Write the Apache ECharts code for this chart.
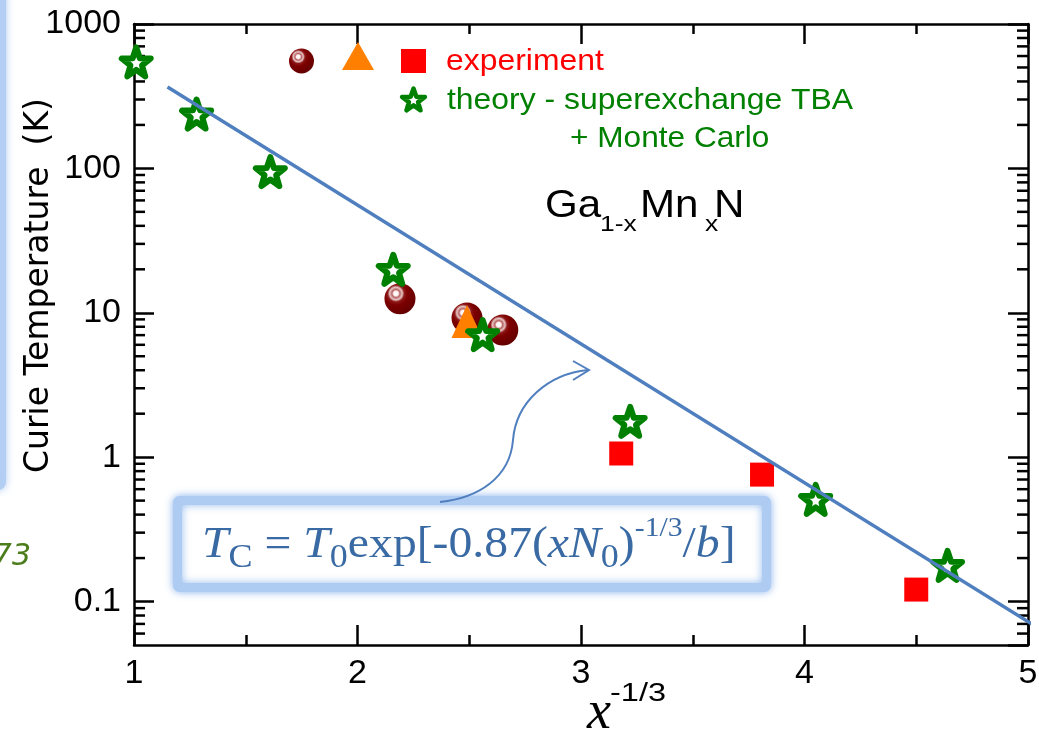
<!DOCTYPE html>
<html>
<head>
<meta charset="utf-8">
<script src="https://cdn.jsdelivr.net/npm/echarts@6/dist/echarts.min.js"></script>
<style>
  html, body { margin: 0; padding: 0; background: #ffffff; }
  #chart { width: 1039px; height: 735px; }
</style>
</head>
<body>
<div id="chart"></div>
<script>
// Curie temperature of Ga(1-x)Mn(x)N versus x^(-1/3)
const theoryX   = [1.01, 1.28, 1.61, 2.16, 2.56, 3.22, 4.05, 4.64];
const theoryT   = [546, 238, 95, 20, 7.05, 1.77, 0.51, 0.178];
const sphereX   = [2.19, 2.49, 2.65];
const sphereT   = [12.5, 9.2, 7.6];
const triangleX = [2.49];
const triangleT = [8.7];
const squareX   = [3.18, 3.81, 4.50];
const squareT   = [1.06, 0.757, 0.121];
const fitX      = [1.15, 5.05];
const fitT      = [366, 0.065];

const xTicks = [1, 2, 3, 4, 5];
const yTicks = [0.1, 1, 10, 100, 1000];
const yMin = 0.05, yMax = 1000;

// minor ticks 2..9 in every decade of the log axis
const yMinorTicks = [];
[0.01, 0.1, 1, 10, 100].forEach(d => {
  for (let m = 2; m <= 9; m++) {
    const v = +(m * d).toPrecision(2);
    if (v > yMin && v < yMax) yMinorTicks.push(v);
  }
});

const zip = (xs, ys) => xs.map((x, i) => [x, ys[i]]);

const BLUE = '#4f7fbe';
const GREEN = '#008000';
const STAR = 'path://M0,-10 L2.35,-3.24 L9.51,-3.09 L3.8,1.24 L5.88,8.09 L0,4 L-5.88,8.09 L-3.8,1.24 L-9.51,-3.09 L-2.35,-3.24 Z';

// five-pointed star outline as a point list (legend glyph)
function starPoints(cx, cy, R, r) {
  const pts = [];
  for (let k = 0; k < 10; k++) {
    const a = -Math.PI / 2 + k * Math.PI / 5;
    const rad = k % 2 === 0 ? R : r;
    pts.push([cx + rad * Math.cos(a), cy + rad * Math.sin(a)]);
  }
  return pts;
}

// glossy maroon ball
function sphereFill() {
  return {
    type: 'radial', x: 0.37, y: 0.33, r: 0.75,
    colorStops: [
      { offset: 0.00, color: '#ffffff' },
      { offset: 0.10, color: '#fff2f2' },
      { offset: 0.17, color: '#b86464' },
      { offset: 0.27, color: '#e6c4c4' },
      { offset: 0.36, color: '#8e1818' },
      { offset: 0.50, color: '#7c0000' },
      { offset: 1.00, color: '#600000' }
    ]
  };
}

const frameLine = { show: true, onZero: false, lineStyle: { color: '#000', width: 2.5 } };
const majorTick = { show: true, inside: true, length: 20, lineStyle: { color: '#000', width: 2.5 } };
const tickFont = { fontFamily: 'Liberation Sans', fontSize: 34, color: '#000' };

function decadeLabel(v) {
  const e = Math.log10(v);
  if (Math.abs(e - Math.round(e)) > 1e-6) return '';
  const t = yTicks.find(k => Math.abs(Math.log10(k) - e) < 1e-6);
  return t === undefined ? '' : String(t);
}

const chart = echarts.init(document.getElementById('chart'), null, { renderer: 'canvas' });

const sansText = (text, x, baseline, size, fill, sx) => ({
  type: 'text', x: x, y: baseline - 0.3465 * size, scaleX: sx || 1, silent: true, z: 20,
  style: { text: text, fontFamily: 'Liberation Sans', fontSize: size, fill: fill, align: 'left', verticalAlign: 'middle' }
});

const formulaColor = '#3a6aa4';
const serif = 'Liberation Serif';
const arrowStyle = { fill: 'none', stroke: BLUE, lineWidth: 2 };

chart.setOption({
  animation: false,
  backgroundColor: '#ffffff',
  grid: { left: 134, top: 24, right: 11, bottom: 90, containLabel: false, outerBoundsMode: 'none' },
  xAxis: [
    {
      type: 'value', min: xTicks[0], max: xTicks[xTicks.length - 1], interval: 1, position: 'bottom',
      axisLine: frameLine, axisTick: majorTick,
      minorTick: { show: true, splitNumber: 2, length: 10, lineStyle: { color: '#000', width: 2.5 } },
      splitLine: { show: false }, minorSplitLine: { show: false },
      axisLabel: Object.assign({ margin: 12 }, tickFont)
    },
    {
      type: 'value', min: xTicks[0], max: xTicks[xTicks.length - 1], interval: 1, position: 'top',
      axisLine: frameLine, axisTick: majorTick,
      minorTick: { show: true, splitNumber: 2, length: 10, lineStyle: { color: '#000', width: 2.5 } },
      splitLine: { show: false }, axisLabel: { show: false }
    }
  ],
  yAxis: [
    {
      type: 'log', logBase: 10, min: yMin, max: yMax, position: 'left',
      axisLine: frameLine, axisTick: majorTick, splitLine: { show: false },
      axisLabel: Object.assign({ margin: 13, showMinLabel: false, formatter: decadeLabel }, tickFont),
      name: 'Curie Temperature  (K)', nameLocation: 'middle', nameGap: 78, nameMoveOverlap: false,
      nameTextStyle: { fontFamily: 'DejaVu Sans', fontSize: 33, color: '#000', padding: [0, 0, 0, 98] }
    },
    {
      type: 'log', logBase: 10, min: yMin, max: yMax, position: 'right',
      axisLine: frameLine, axisTick: majorTick, splitLine: { show: false },
      axisLabel: { show: false }
    }
  ],
  series: [
    {
      // minor ticks of the logarithmic axes (left and right frame)
      type: 'custom', silent: true, xAxisIndex: 0, yAxisIndex: 0, z: 1, clip: false,
      data: yMinorTicks.map(v => [xTicks[0], v]),
      renderItem: function (params, api) {
        const l = api.coord([xTicks[0], api.value(1)]);
        const r = api.coord([xTicks[xTicks.length - 1], api.value(1)]);
        const st = { stroke: '#000', lineWidth: 2.5 };
        return {
          type: 'group', children: [
            { type: 'line', shape: { x1: l[0], y1: l[1], x2: l[0] + 11, y2: l[1] }, style: st },
            { type: 'line', shape: { x1: r[0] - 11, y1: r[1], x2: r[0], y2: r[1] }, style: st }
          ]
        };
      }
    },
    {
      name: 'experiment (spheres)', type: 'scatter', data: zip(sphereX, sphereT), z: 3,
      symbol: 'circle', symbolSize: 31, itemStyle: { color: sphereFill(), opacity: 1 }, silent: true
    },
    {
      name: 'experiment (triangle)', type: 'scatter', data: zip(triangleX, triangleT), z: 4,
      symbol: 'triangle', symbolSize: [31, 33], itemStyle: { color: '#ff8000', opacity: 1 }, silent: true
    },
    {
      name: 'experiment', type: 'scatter', data: zip(squareX, squareT), z: 4,
      symbol: 'rect', symbolSize: 24, itemStyle: { color: '#ff0000', opacity: 1 }, silent: true
    },
    {
      name: 'theory - superexchange TBA + Monte Carlo', type: 'scatter', data: zip(theoryX, theoryT), z: 5,
      symbol: STAR, symbolSize: 29,
      itemStyle: { color: '#ffffff', borderColor: GREEN, borderWidth: 6, borderJoin: 'round', opacity: 1 }, silent: true
    },
    {
      name: 'fit', type: 'line', data: zip(fitX, fitT), z: 6, clip: false,
      symbol: 'none', lineStyle: { color: BLUE, width: 3.5 }, silent: true
    }
  ],
  graphic: [
    // light-blue edge on the far left
    { type: 'rect', z: 0, silent: true, shape: { x: -14, y: -12, width: 20, height: 502, r: 8 },
      style: { fill: '#b2cef2', shadowBlur: 9, shadowColor: '#a9c8f0' } },
    { type: 'text', z: 20, silent: true, x: 31, y: 557,
      style: { text: '73', fontFamily: 'DejaVu Sans', fontStyle: 'italic', fontSize: 30, fill: '#4c7d1c', align: 'right', verticalAlign: 'middle' } },

    // legend
    { type: 'circle', z: 20, silent: true, shape: { cx: 301.5, cy: 61, r: 12.5 }, style: { fill: sphereFill() } },
    { type: 'polygon', z: 20, silent: true, shape: { points: [[342, 70], [374, 70], [358, 42]] }, style: { fill: '#ff8000' } },
    { type: 'rect', z: 20, silent: true, shape: { x: 401, y: 49, width: 25, height: 24 }, style: { fill: '#ff0000' } },
    { type: 'polygon', z: 20, silent: true, shape: { points: starPoints(413.5, 100.6, 12, 4.8) },
      style: { fill: '#ffffff', stroke: GREEN, lineWidth: 4.5, lineJoin: 'round' } },
    sansText('experiment', 446, 72, 29, '#ff0000', 1.1),
    sansText('theory - superexchange TBA', 447, 111, 29, GREEN, 1.1),
    sansText('+ Monte Carlo', 570, 149, 29, GREEN, 1.09),

    // compound name
    sansText('Ga', 545, 220, 39, '#000', 1.08),
    sansText('1-x', 600, 233, 22, '#000', 1.2),
    sansText('Mn', 640, 220, 39, '#000', 1.08),
    sansText('x', 705, 233, 22, '#000', 1.2),
    sansText('N', 714, 220, 39, '#000', 1.08),

    // x-axis title
    { type: 'text', z: 20, silent: true, x: 587, y: 732 - 0.3375 * 54,
      style: { text: 'x', fontFamily: serif, fontStyle: 'italic', fontSize: 54, fill: '#000', align: 'left', verticalAlign: 'middle' } },
    sansText('-1/3', 610, 703, 26, '#000', 1.25),

    // formula box
    { type: 'rect', z: 15, silent: true, shape: { x: 177.5, y: 500.5, width: 589, height: 87, r: 2 },
      style: { fill: '#ffffff', stroke: '#aecbf1', lineWidth: 9, shadowBlur: 8, shadowColor: 'rgba(130,175,235,0.85)' } },
    { type: 'text', z: 20, silent: true, x: 202, y: 515, scaleX: 1.06,
      style: {
        text: '{i|T}{sub|C}{n| = }{i|T}{sub|0}{n|exp[-0.87(}{i|xN}{sub|0}{n|)}{sup|-1/3}{n|/}{i|b}{n|]}',
        align: 'left', verticalAlign: 'top',
        rich: {
          i:   { fontFamily: serif, fontStyle: 'italic', fontSize: 45, lineHeight: 60, fill: formulaColor },
          n:   { fontFamily: serif, fontSize: 45, lineHeight: 60, fill: formulaColor },
          sub: { fontFamily: serif, fontSize: 34, lineHeight: 30, verticalAlign: 'bottom', fill: formulaColor },
          sup: { fontFamily: serif, fontSize: 28, lineHeight: 52, verticalAlign: 'top', fill: formulaColor }
        }
      } },

    // curved arrow pointing to the fit line
    { type: 'bezierCurve', z: 20, silent: true,
      shape: { x1: 440, y1: 502, cpx1: 478, cpy1: 498, cpx2: 510, cpy2: 478, x2: 513, y2: 440 }, style: arrowStyle },
    { type: 'bezierCurve', z: 20, silent: true,
      shape: { x1: 513, y1: 440, cpx1: 516, cpy1: 402, cpx2: 548, cpy2: 374, x2: 588, y2: 370 }, style: arrowStyle },
    { type: 'polyline', z: 20, silent: true,
      shape: { points: [[573, 361], [589, 370], [573, 380]] }, style: arrowStyle }
  ]
});
</script>
</body>
</html>
